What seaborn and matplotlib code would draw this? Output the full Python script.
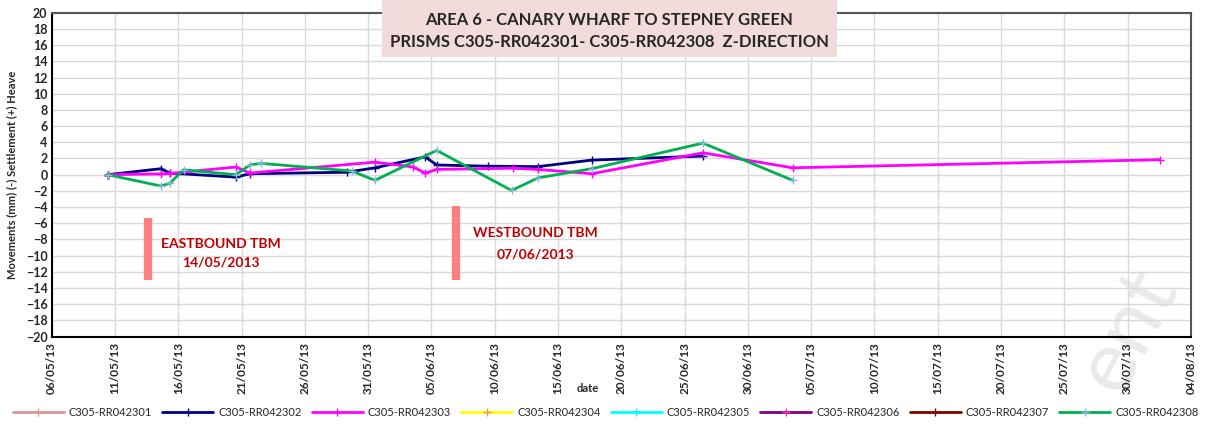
import pandas as pd
import seaborn as sns
import matplotlib.pyplot as plt
import matplotlib.dates as mdates
from matplotlib.patches import Rectangle

# survey readings (mm)
dates_302 = ["2013-05-10 10:00", "2013-05-14 15:00", "2013-05-15 08:00", "2013-05-20 13:00",
             "2013-05-21 16:00", "2013-05-29 07:00", "2013-05-31 13:00", "2013-06-04 12:00",
             "2013-06-05 10:00", "2013-06-09 11:00", "2013-06-13 10:00", "2013-06-17 16:00",
             "2013-06-26 11:00"]
vals_302 = [0.0, 0.74, 0.2, -0.3, 0.12, 0.3, 0.85, 2.2, 1.2, 1.05, 1.0, 1.8, 2.3]

dates_303 = ["2013-05-10 10:00", "2013-05-14 15:00", "2013-05-15 08:00", "2013-05-20 13:00",
             "2013-05-21 16:00", "2013-05-31 13:00", "2013-06-03 13:00", "2013-06-04 12:00",
             "2013-06-05 10:00", "2013-06-11 10:00", "2013-06-13 10:00", "2013-06-17 16:00",
             "2013-06-26 11:00", "2013-07-03 13:00", "2013-08-01 13:00"]
vals_303 = [0.0, 0.1, 0.15, 0.95, 0.2, 1.55, 0.95, 0.2, 0.65, 0.8, 0.65, 0.12, 2.7, 0.85, 1.85]

dates_308 = ["2013-05-10 10:00", "2013-05-14 15:00", "2013-05-15 08:00", "2013-05-16 10:00",
             "2013-05-20 13:00", "2013-05-21 16:00", "2013-05-22 13:00", "2013-05-29 17:00",
             "2013-05-31 13:00", "2013-06-05 10:00", "2013-06-11 08:00", "2013-06-13 10:00",
             "2013-06-17 16:00", "2013-06-26 11:00", "2013-07-03 13:00"]
vals_308 = [0.0, -1.4, -1.05, 0.6, 0.0, 1.2, 1.4, 0.45, -0.7, 3.0, -1.95, -0.4, 0.74, 3.9, -0.7]

# prisms with only the base reading
dates_base = ["2013-05-10 10:00"]
vals_base = [0.0]

names = ["C305-RR042301", "C305-RR042302", "C305-RR042303", "C305-RR042304",
         "C305-RR042305", "C305-RR042306", "C305-RR042307", "C305-RR042308"]
colors = ["#D99694", "#000080", "#FF00FF", "#FFFF00", "#00FFFF", "#800080", "#800000", "#00B050"]
mcolors = ["#D99694", "#000080", "#FF00FF", "#F79646", "#00FFFF", "#FF3399", "#800000", "#8DB4E2"]
series = {
    "C305-RR042301": (dates_base, vals_base),
    "C305-RR042302": (dates_302, vals_302),
    "C305-RR042303": (dates_303, vals_303),
    "C305-RR042304": (dates_base, vals_base),
    "C305-RR042305": (dates_base, vals_base),
    "C305-RR042306": (dates_base, vals_base),
    "C305-RR042307": (dates_base, vals_base),
    "C305-RR042308": (dates_308, vals_308),
}

# TBM passing markers
tbm_dates = ["2013-05-13 15:00", "2013-06-06 22:00"]
tbm_top = [-5.3, -3.9]
tbm_bottom = [-13.0, -13.0]

sns.set_theme(style="white")
plt.rcParams['font.family'] = ['Lato', 'DejaVu Sans']

fig = plt.figure(figsize=(12.17, 4.24), dpi=100)
ax = fig.add_axes([0.0425, 0.206, 0.936, 0.764])
ax.patch.set_alpha(0)

for name, col, mcol in zip(names, colors, mcolors):
    d, v = series[name]
    sns.lineplot(x=pd.to_datetime(d), y=v, ax=ax, color=col, lw=2, marker="+",
                 markersize=6, markeredgecolor=mcol, markeredgewidth=1, label=name, zorder=3)

for d, t, b in zip(pd.to_datetime(tbm_dates), tbm_top, tbm_bottom):
    ax.vlines(d, b, t, color="#FF7F7F", lw=6, zorder=2)

ax.text(pd.Timestamp("2013-05-19 08:00"), -8.5, "EASTBOUND TBM", color="#C00000",
        fontsize=10, fontweight="bold", ha="center", va="center")
ax.text(pd.Timestamp("2013-05-19 08:00"), -10.9, "14/05/2013", color="#C00000",
        fontsize=10, fontweight="bold", ha="center", va="center")
ax.text(pd.Timestamp("2013-06-13 06:00"), -7.2, "WESTBOUND TBM", color="#C00000",
        fontsize=10, fontweight="bold", ha="center", va="center")
ax.text(pd.Timestamp("2013-06-13 06:00"), -9.8, "07/06/2013", color="#C00000",
        fontsize=10, fontweight="bold", ha="center", va="center")

ax.set_xlim(pd.Timestamp("2013-05-06"), pd.Timestamp("2013-08-04"))
ax.set_ylim(-20, 20)
ax.set_yticks(range(-20, 21, 2))
ax.set_xticks(pd.date_range("2013-05-06", "2013-08-04", freq="5D"))
ax.xaxis.set_major_formatter(mdates.DateFormatter("%d/%m/%y"))
ax.grid(True, color="#D9D9D9", lw=1)
ax.tick_params(axis="x", rotation=90, labelsize=8.5, pad=4, length=0)
ax.tick_params(axis="y", labelsize=9, pad=3, length=0)
for lab in ax.get_xticklabels() + ax.get_yticklabels():
    lab.set_fontweight("bold")
for s in ax.spines.values():
    s.set_color("black")
    s.set_linewidth(1.5)
ax.spines["top"].set_color("#555555")
ax.spines["right"].set_color("#555555")

ax.set_xlabel("")
ax.set_ylabel("Movements (mm) (-) Settlement (+) Heave", fontsize=8, fontweight="bold", labelpad=6)
fig.text(588 / 1217, 1 - 388 / 424, "date", fontsize=8, fontweight="bold", ha="center", va="center")

ax.legend(loc="center left", bbox_to_anchor=(-0.038, -0.235), ncol=8, frameon=False,
          fontsize=8, handlelength=4.6, handletextpad=0.45, columnspacing=0.9,
          borderaxespad=0)

# title box
fig.patches.append(Rectangle((382 / 1217, 1 - 57 / 424), 455 / 1217, 57 / 424,
                             transform=fig.transFigure, facecolor="#F2DCDB",
                             edgecolor="none", zorder=5))
fig.text(0.5008, 1 - 20 / 424, "AREA 6 - CANARY WHARF TO STEPNEY GREEN", fontsize=12,
         fontweight="bold", ha="center", va="center", zorder=6)
fig.text(0.5008, 1 - 42 / 424, "PRISMS C305-RR042301- C305-RR042308  Z-DIRECTION", fontsize=12,
         fontweight="bold", ha="center", va="center", zorder=6)

# faint watermark at bottom right
fig.text(1128 / 1217, 1 - 330 / 424, "ent", fontsize=62, color="#DDDDDD", alpha=0.6,
         rotation=62, ha="center", va="center", zorder=-1)

fig.savefig("out.png", dpi=100)
